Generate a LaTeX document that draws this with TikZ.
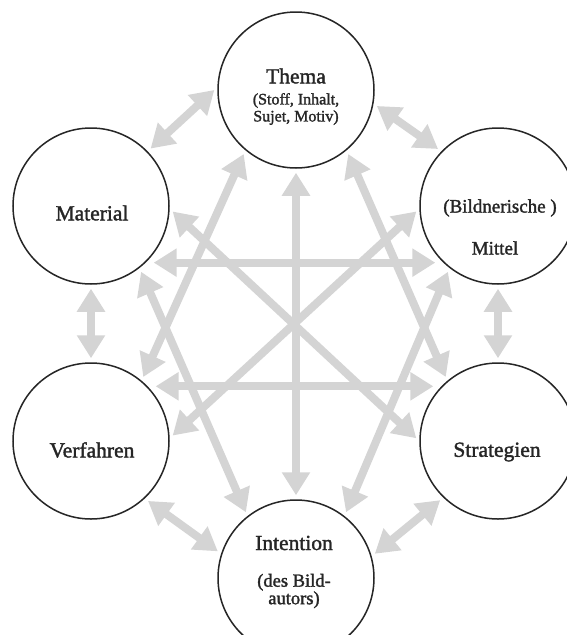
\documentclass[tikz,border=0pt]{standalone}
\usepackage{fontspec}
\newfontfamily\lab{Liberation Serif}[FakeBold=1.6]
\usetikzlibrary{arrows.meta,calc}
\definecolor{arrowgray}{RGB}{212,212,212}
\definecolor{ink}{RGB}{38,38,38}
\begin{document}
\begin{tikzpicture}[x=1pt,y=-1pt,
  circ/.style={circle,draw=ink,line width=1.5pt,minimum size=156pt,inner sep=0pt,fill=white},
  lbl/.style={font=\lab\fontsize{21.5}{24}\selectfont,text=ink,align=center,inner sep=0pt},
  midlbl/.style={font=\lab\fontsize{19}{22}\selectfont,text=ink,align=center,inner sep=0pt},
  sublbl/.style={font=\lab\fontsize{16}{17}\selectfont,text=ink,align=center,inner sep=0pt},
  intlbl/.style={font=\lab\fontsize{18.5}{17.5}\selectfont,text=ink,align=center,inner sep=0pt},
  link/.style={draw=arrowgray,line width=8pt,
    {Triangle[length=23pt,width=27pt]}-{Triangle[length=23pt,width=27pt]},
    shorten <=4pt,shorten >=4pt},
  linkh/.style={link,shorten <=8pt,shorten >=8pt}]
\useasboundingbox (0,0) rectangle (567,635);
% circles
\node[circ] (T) at (296,90) {};
\node[circ] (Mi) at (498,206) {};
\node[circ] (Ma) at (91,206) {};
\node[circ] (V) at (91,441) {};
\node[circ] (S) at (498,441) {};
\node[circ] (I) at (296,578) {};
% labels
\node[lbl] (Tt) at (296,76) {Thema};
\node[sublbl] (Ts) at (296,109) {(Stoff, Inhalt,\\Sujet, Motiv)};
\node[midlbl] (Mit1) at (500,208) {(Bildnerische )};
\node[midlbl] (Mit2) at (495,248) {Mittel};
\node[lbl] (Mat) at (92,213) {Material};
\node[lbl] (Ver) at (92,450) {Verfahren};
\node[lbl] (Str) at (497,452) {Strategien};
\node[lbl] (Int) at (294,543) {Intention};
\node[intlbl] (Ints) at (294,591) {(des Bild-\\autors)};
% connectors
\draw[link] (T.-90) -- (I.90);
\draw[link] (Ma.-2) -- (S.180);
\draw[link] (Mi.182) -- (V.2);
\draw[linkh] (Ma.-46) -- (Mi.226);
\draw[linkh] (V.44) -- (S.136);
\draw[link] (T.230) -- (V.50);
\draw[link] (T.-50) -- (S.130);
\draw[link] (Ma.-52) -- (I.128);
\draw[link] (Mi.232) -- (I.52);
\draw[link] (Ma.44) -- (T.178);
\draw[link] (T.-10) -- (Mi.136);
\draw[link] (Ma.-90) -- (V.90);
\draw[link] (Mi.-90) -- (S.90);
\draw[link] (V.-47) -- (I.162);
\draw[link] (S.226) -- (I.16);
\end{tikzpicture}
\end{document}
